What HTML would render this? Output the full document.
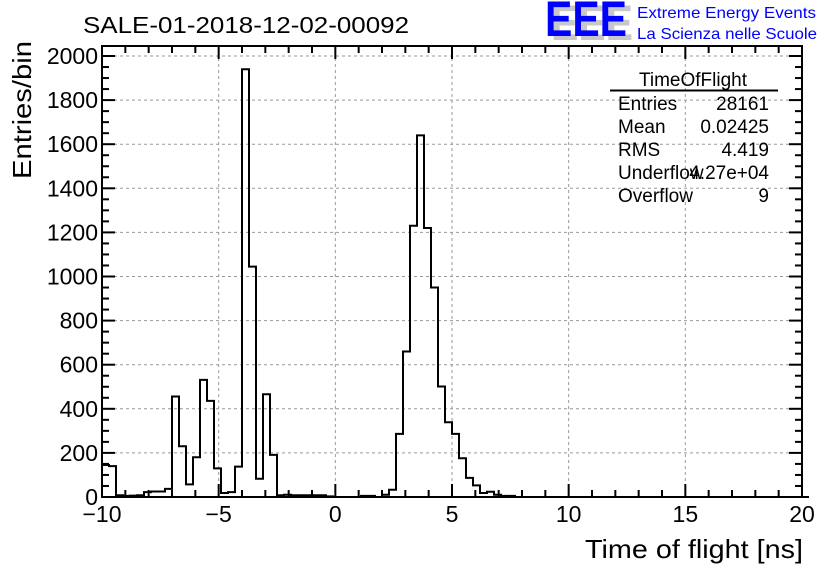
<!DOCTYPE html>
<html><head><meta charset="utf-8"><style>
body{margin:0;background:#fff}
svg{display:block;font-family:"Liberation Sans",sans-serif}
</style></head><body>
<svg id="c" width="836" height="572" viewBox="0 0 836 572">
<rect width="836" height="572" fill="#fff"/>
<text x="83" y="33" font-size="23" textLength="326" lengthAdjust="spacingAndGlyphs">SALE-01-2018-12-02-00092</text>
<g>
<text x="551" y="40" font-size="50" fill="#c8c8c8" font-weight="bold" textLength="82" lengthAdjust="spacingAndGlyphs">EEE</text>
<text x="545" y="36" font-size="50" fill="#0000ff" font-weight="bold" textLength="82" lengthAdjust="spacingAndGlyphs">EEE</text>
<text x="637" y="18" font-size="16" fill="#0000ff" textLength="179" lengthAdjust="spacingAndGlyphs">Extreme Energy Events</text>
<text x="637" y="39" font-size="16" fill="#0000ff" textLength="180" lengthAdjust="spacingAndGlyphs">La Scienza nelle Scuole</text>
</g>
<g id="grid"></g>
<g id="bars"></g>
<g id="axes"></g>
<text x="803" y="558" font-size="26" text-anchor="end" textLength="218" lengthAdjust="spacingAndGlyphs">Time of flight [ns]</text>
<text transform="translate(31,110) rotate(-90)" font-size="26" text-anchor="middle" textLength="138" lengthAdjust="spacingAndGlyphs">Entries/bin</text>
<g font-size="19">
<text x="693" y="86" text-anchor="middle">TimeOfFlight</text>
<line x1="610" y1="90.5" x2="778" y2="90.5" stroke="#000" stroke-width="2"/>
<text x="618" y="110">Entries</text><text x="769" y="110" text-anchor="end">28161</text>
<text x="618" y="133">Mean</text><text x="769" y="133" text-anchor="end">0.02425</text>
<text x="618" y="156">RMS</text><text x="769" y="156" text-anchor="end">4.419</text>
<text x="618" y="179">Underflow</text><text x="769" y="179" text-anchor="end">4.27e+04</text>
<text x="618" y="202">Overflow</text><text x="769" y="202" text-anchor="end">9</text>
</g>
</svg>
<script>
const binLow = -10, binWidth = 0.3;
const counts = [145,140,8,5,6,8,22,25,25,37,456,230,57,180,531,436,130,18,22,138,1940,1045,83,466,191,8,
10,8,8,8,8,8,3,0,0,0,0,5,5,0,10,33,286,660,1230,1640,1220,950,501,339,286,176,87,53,18,24,10,5,5,
0,0,0,0,0,0,0,0,0,0,0,0,0,0,0,0,0,0,0,0,0,0,0,0,0,0,0,0,0,0,0,0,0,0,0,0,0,0,0,0,0,0];
const xTicks = [-10,-5,0,5,10,15,20];
const yTicks = [0,200,400,600,800,1000,1200,1400,1600,1800,2000];
const X0=102,X1=802,Y0=497,Y1=46;
const xs = v => X0 + (v - (-10)) / 30 * (X1 - X0);
const ys = v => Y0 - v / 2000 * 441;
const NS='http://www.w3.org/2000/svg';
function mk(t,a,p){const e=document.createElementNS(NS,t);for(const k in a)e.setAttribute(k,a[k]);p.appendChild(e);return e;}
const grid=document.getElementById('grid'),bars=document.getElementById('bars'),axes=document.getElementById('axes');
xTicks.forEach(v=>{if(v>-10&&v<20){const l=mk('line',{x1:xs(v),x2:xs(v),y1:Y1,y2:Y0,stroke:'#999','stroke-dasharray':'3,3'},grid);

}});
yTicks.forEach(v=>{if(v>0){const l=mk('line',{x1:X0,x2:X1,y1:ys(v),y2:ys(v),stroke:'#999','stroke-dasharray':'3,3'},grid);

}});
let d='M'+xs(binLow)+','+Y0;
counts.forEach((c,i)=>{const a=xs(binLow+i*binWidth),b=xs(binLow+(i+1)*binWidth);d+=' L'+a+','+ys(c)+' L'+b+','+ys(c);});
d+=' L'+X1+','+Y0;
const p=mk('path',{d:d,fill:'none',stroke:'#000','stroke-width':2},bars);


const fr=mk('rect',{x:X0,y:Y1,width:X1-X0,height:Y0-Y1,fill:'none',stroke:'#000','stroke-width':2},axes);


for(let v=-10;v<=20;v++){const L=(v%5===0)?13:7;
mk('line',{x1:xs(v),x2:xs(v),y1:Y0,y2:Y0-L,stroke:'#000','stroke-width':2},axes);
mk('line',{x1:xs(v),x2:xs(v),y1:Y1,y2:Y1+L,stroke:'#000','stroke-width':2},axes);}
for(let v=0;v<=2000;v+=50){const L=(v%200===0)?13:7;
mk('line',{x1:X0,x2:X0+L,y1:ys(v),y2:ys(v),stroke:'#000','stroke-width':2},axes);
mk('line',{x1:X1,x2:X1-L,y1:ys(v),y2:ys(v),stroke:'#000','stroke-width':2},axes);}
xTicks.forEach(v=>{const t=mk('text',{x:xs(v),y:522,'font-size':23,'text-anchor':'middle'},axes);t.textContent=v<0?'\u2212'+(-v):v;

});
yTicks.forEach(v=>{const t=mk('text',{x:98,y:ys(v)+8,'font-size':23,'text-anchor':'end'},axes);t.textContent=v;

});
</script>
</body></html>
